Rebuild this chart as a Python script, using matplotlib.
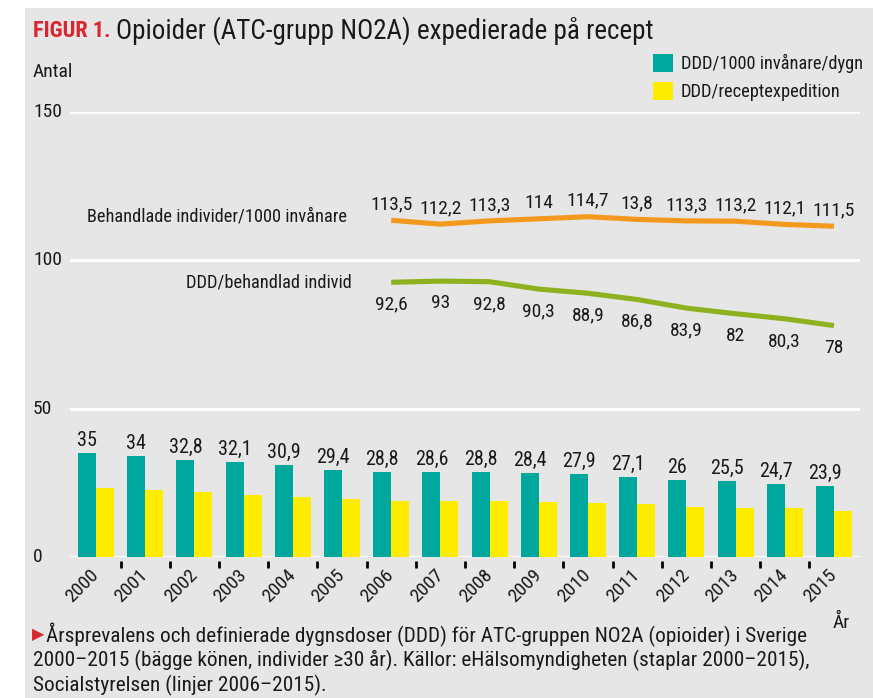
import matplotlib
matplotlib.use("Agg")
import matplotlib.pyplot as plt
from matplotlib.patches import Rectangle
import matplotlib.transforms as mtransforms
import numpy as np

plt.rcParams['font.family'] = ['Roboto Condensed', 'Liberation Sans Narrow', 'Roboto', 'DejaVu Sans']

# ---------------- data ----------------
years = [str(y) for y in range(2000, 2016)]
ddd_per_1000 = [35, 34, 32.8, 32.1, 30.9, 29.4, 28.8, 28.6, 28.8, 28.4, 27.9, 27.1, 26, 25.5, 24.7, 23.9]
ddd_per_recept = [23.1, 22.6, 21.8, 21.0, 20.3, 19.4, 19.0, 19.0, 19.0, 18.7, 18.3, 18.0, 17.0, 16.6, 16.4, 15.5]
bar_labels = ["35", "34", "32,8", "32,1", "30,9", "29,4", "28,8", "28,6", "28,8", "28,4",
              "27,9", "27,1", "26", "25,5", "24,7", "23,9"]

line_years = [str(y) for y in range(2006, 2016)]
behandlade = [113.5, 112.2, 113.3, 114, 114.7, 113.8, 113.3, 113.2, 112.1, 111.5]
behandlade_labels = ["113,5", "112,2", "113,3", "114", "114,7", "13,8", "113,3", "113,2", "112,1", "111,5"]
ddd_per_ind = [92.6, 93, 92.8, 90.3, 88.9, 86.8, 83.9, 82, 80.3, 78]
ddd_per_ind_labels = ["92,6", "93", "92,8", "90,3", "88,9", "86,8", "83,9", "82", "80,3", "78"]

yticks = [0, 50, 100, 150]

TEAL = "#00a79d"
YELLOW = "#ffed00"
ORANGE = "#f39a1e"
GREEN = "#8cb21f"
BG = "#e6e6e6"
TXT = "#1a1a1a"

W, H = 873, 698
fig = plt.figure(figsize=(W / 100, H / 100), dpi=100, facecolor="white")

def fx(px):
    return px / W

def fy(py):
    return 1 - py / H

# grey panel
fig.patches.append(Rectangle((fx(25), 0), 1 - fx(25), fy(8), transform=fig.transFigure,
                             facecolor=BG, edgecolor="none", zorder=-5))

ax = fig.add_axes([fx(70), fy(557), fx(860) - fx(70), (557 - 112) / H])
ax.set_zorder(1)
ax.set_facecolor("none")
for s in ax.spines.values():
    s.set_visible(False)

FS = 14.5

x = np.arange(len(years))
bw = 0.366
b1 = ax.bar(x - bw / 2, ddd_per_1000, width=bw, color=TEAL, label="DDD/1000 invånare/dygn", zorder=3)
b2 = ax.bar(x + bw / 2, ddd_per_recept, width=bw, color=YELLOW, label="DDD/receptexpedition", zorder=3)

for xi, v, lab in zip(x, ddd_per_1000, bar_labels):
    ax.annotate(lab, (xi - bw / 2, v), xytext=(0, 5), textcoords="offset points",
                ha="center", va="baseline", fontsize=FS, color=TXT)

lx = np.array([years.index(y) for y in line_years])
ax.plot(lx, behandlade, color=ORANGE, lw=3.7, solid_capstyle="butt", zorder=4)
ax.plot(lx, ddd_per_ind, color=GREEN, lw=3.7, solid_capstyle="butt", zorder=4)

for xi, v, lab in zip(lx, behandlade, behandlade_labels):
    ax.annotate(lab, (xi, v), xytext=(0, 11.5), textcoords="offset points",
                ha="center", va="center", fontsize=14, color=TXT)
for xi, v, lab in zip(lx, ddd_per_ind, ddd_per_ind_labels):
    ax.annotate(lab, (xi, v), xytext=(0, -16), textcoords="offset points",
                ha="center", va="center", fontsize=14, color=TXT)

ax.set_ylim(0, 150)
ax.set_xlim(-0.53, 15.53)
ax.set_yticks(yticks)
ax.set_yticklabels([])
ax.tick_params(axis="y", length=0)
ax.grid(axis="y", color="white", lw=2, zorder=1)
ax.set_axisbelow(True)

# y tick labels left-aligned at panel margin
for t in yticks:
    ax.text(fx(33), t, str(t), transform=mtransforms.blended_transform_factory(fig.transFigure, ax.transData),
            ha="left", va="center", fontsize=14, color=TXT)

ax.set_xticks(x)
ax.set_xticklabels(years, rotation=45, ha="right", va="center", rotation_mode="anchor",
                   fontsize=14, color=TXT)
ax.tick_params(axis="x", length=0, pad=11)

# separator tick marks between year groups
trans = mtransforms.blended_transform_factory(ax.transData, ax.transAxes)
ax.vlines(x[:-1] + 0.5, -0.025, -0.009, transform=trans, color="black", lw=2, clip_on=False)

# line labels
fig.text(fx(347), fy(216), "Behandlade individer/1000 invånare", ha="right", va="center",
         fontsize=13.2, color=TXT)
fig.text(fx(352), fy(282), "DDD/behandlad individ", ha="right", va="center",
         fontsize=13.2, color=TXT)

# title
t1 = fig.text(fx(33), fy(31), "FIGUR 1.", ha="left", va="center", fontsize=16,
              fontweight="bold", color="#d7282f")
fig.canvas.draw()
bb = t1.get_window_extent()
fig.text(bb.x1 / W + fx(5), fy(31), "Opioider (ATC-grupp NO2A) expedierade på recept",
         ha="left", va="center", fontsize=19.5, color=TXT)

fig.text(fx(33), fy(72), "Antal", ha="left", va="center", fontsize=14, color=TXT)
fig.text(fx(841), fy(623), "År", ha="center", va="center", fontsize=14, color=TXT)

# legend
leg = ax.legend(handles=[b1, b2], loc="upper left", bbox_to_anchor=(fx(653), fy(54)),
                bbox_transform=fig.transFigure, frameon=False, fontsize=13.2,
                handlelength=1.1, handleheight=1.1, handletextpad=0.42,
                labelspacing=0.5, borderpad=0, borderaxespad=0)
for t in leg.get_texts():
    t.set_color(TXT)

# footnote
fig.text(fx(32), fy(635), "▶", ha="left", va="center", fontsize=11.5, color="#d7282f",
         family="DejaVu Sans")
fig.text(fx(46), fy(635), "Årsprevalens och definierade dygnsdoser (DDD) för ATC-gruppen NO2A (opioider) i Sverige",
         ha="left", va="center", fontsize=15.3, color=TXT)
fig.text(fx(33), fy(660), "2000–2015 (bägge könen, individer ≥30 år). Källor: eHälsomyndigheten (staplar 2000–2015),",
         ha="left", va="center", fontsize=15.3, color=TXT)
fig.text(fx(33), fy(685), "Socialstyrelsen (linjer 2006–2015).",
         ha="left", va="center", fontsize=15.3, color=TXT)

fig.savefig("out.png", dpi=100, facecolor="white")
